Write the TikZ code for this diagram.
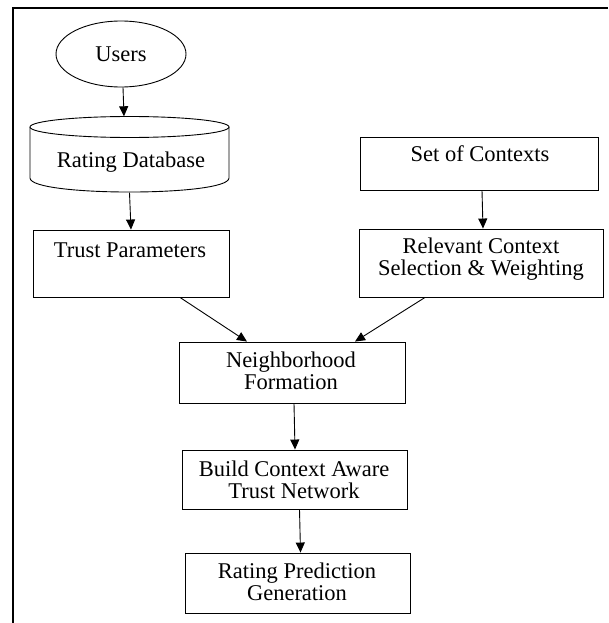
\documentclass[tikz,border=0pt]{standalone}
\usepackage{fontspec}
\setmainfont{Liberation Serif}
\usetikzlibrary{arrows.meta,shapes.geometric}
\begin{document}
\begin{tikzpicture}[x=1pt,y=-1pt,
  font=\fontsize{22.5}{22.5}\selectfont,
  box/.style={draw, line width=0.9pt, inner sep=0pt},
  lbl/.style={inner sep=0pt, align=center},
  arr/.style={line width=0.9pt, -{Triangle[length=10pt,width=9pt]}}]
\useasboundingbox (0,0) rectangle (608,623);
\draw[line width=2pt] (13,623) -- (13,8) -- (608,8);

% Users
\node[draw, ellipse, line width=0.9pt, minimum width=130pt, minimum height=66pt, inner sep=0pt] (users) at (121,54) {Users};

% Rating database cylinder
\node[minimum width=199pt, minimum height=76pt, inner sep=0pt] (db) at (129.5,154.5) {};
\draw[line width=0.9pt] (129.5,127) ellipse [x radius=99.5pt, y radius=10.5pt];
\draw[line width=0.9pt] (30,127) -- (30,178) .. controls (30,196.7) and (229,196.7) .. (229,178) -- (229,127);
\node[lbl] (dbt) at (131,162) {Rating Database};

% Trust parameters
\node[box, minimum width=196pt, minimum height=67pt] (trust) at (131,263.5) {};
\node[lbl] (trustt) at (130,250) {Trust Parameters};

% Set of contexts
\node[box, minimum width=238pt, minimum height=53pt] (set) at (479,163.5) {};
\node[lbl] (sett) at (480,154) {Set of Contexts};

% Relevant context
\node[box, minimum width=244pt, minimum height=68pt] (rel) at (481,263) {};
\node[lbl] (relt) at (481,259) {Relevant Context\\Selection \& Weighting};

% Neighborhood
\node[box, minimum width=226pt, minimum height=61pt] (neigh) at (292,372.5) {};
\node[lbl] (neight) at (291,371) {Neighborhood\\Formation};

% Build
\node[box, minimum width=225pt, minimum height=59pt] (build) at (294.5,479.5) {};
\node[lbl] (buildt) at (294,480) {Build Context Aware\\Trust Network};

% Rating prediction
\node[box, minimum width=225pt, minimum height=60pt] (rp) at (297.5,583) {};
\node[lbl] (rpt) at (297,582) {Rating Prediction\\Generation};

% Arrows
\draw[arr] ([xshift=2pt]users.south) -- ([xshift=-5.5pt]db.north);
\draw[arr] (db.south) -- (trust.north);
\draw[arr] ([xshift=3pt]set.south) -- ([xshift=2pt]rel.north);
\draw[arr] ([xshift=49pt]trust.south) -- ([xshift=-45pt]neigh.north);
\draw[arr] ([xshift=-56pt]rel.south) -- ([xshift=63pt]neigh.north);
\draw[arr] ([xshift=2pt]neigh.south) -- ([xshift=0.5pt]build.north);
\draw[arr] ([xshift=5pt]build.south) -- ([xshift=3pt]rp.north);
\end{tikzpicture}
\end{document}
